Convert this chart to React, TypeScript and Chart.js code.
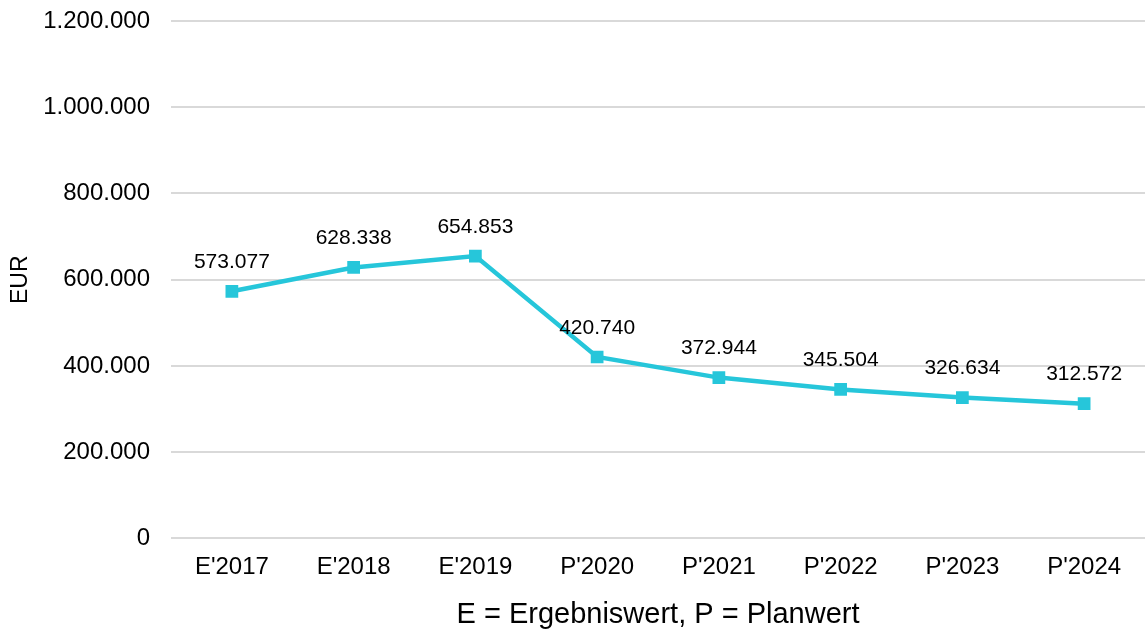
import React, { useEffect, useRef } from "react";
import { Chart, registerables } from "chart.js";

Chart.register(...registerables);

const categories = ["E'2017", "E'2018", "E'2019", "P'2020", "P'2021", "P'2022", "P'2023", "P'2024"];
const values = [573077, 628338, 654853, 420740, 372944, 345504, 326634, 312572];
const yTicks = [0, 200000, 400000, 600000, 800000, 1000000, 1200000];
const yTitle = "EUR";
const xTitle = "E = Ergebniswert, P = Planwert";

const fmt = (v: number) => {
  const s = Math.round(v).toString();
  return s.replace(/\B(?=(\d{3})+(?!\d))/g, ".");
};

const FONT = "'Liberation Sans', Arial, sans-serif";

const labelPlugin = {
  id: "pointLabels",
  afterDatasetsDraw(chart: any) {
    const ctx = chart.ctx;
    const meta = chart.getDatasetMeta(0);
    ctx.save();
    ctx.font = `21px ${FONT}`;
    ctx.fillStyle = "#000000";
    ctx.textAlign = "center";
    ctx.textBaseline = "middle";
    meta.data.forEach((pt: any, i: number) => {
      ctx.fillText(fmt(values[i]), pt.x, pt.y - 29);
    });
    ctx.restore();
  },
};

export default function App() {
  const ref = useRef<HTMLCanvasElement>(null);
  useEffect(() => {
    document.body.style.margin = "0";
    const chart = new Chart(ref.current!, {
      type: "line",
      data: {
        labels: categories,
        datasets: [
          {
            data: values,
            borderColor: "#26C6DA",
            backgroundColor: "#26C6DA",
            borderWidth: 4.5,
            pointStyle: "rect",
            pointRadius: 9,
            pointHoverRadius: 9,
            pointBorderWidth: 0,
            tension: 0,
          },
        ],
      },
      options: {
        animation: false,
        responsive: false,
        layout: { autoPadding: false, padding: { top: 21, right: 0, left: 0, bottom: 0 } },
        plugins: { legend: { display: false }, tooltip: { enabled: false } },
        scales: {
          x: {
            offset: true,
            grid: { display: false, drawTicks: false },
            border: { display: false },
            ticks: { color: "#000", font: { family: FONT, size: 24 }, padding: 15 },
            title: {
              display: true,
              text: xTitle,
              color: "#000",
              font: { family: FONT, size: 29 },
              padding: { top: 0, bottom: 0 },
            },
          },
          y: {
            min: 0,
            max: 1200000,
            afterBuildTicks: (axis: any) => {
              axis.ticks = yTicks.map((v) => ({ value: v }));
            },
            afterFit: (axis: any) => {
              axis.width = 171;
              axis.paddingTop = 0;
              axis.paddingBottom = 0;
            },
            grid: { color: "#d9d9d9", lineWidth: 2, drawTicks: false },
            border: { display: false },
            ticks: {
              color: "#000",
              font: { family: FONT, size: 24 },
              padding: 21,
              callback: (v: any) => fmt(Number(v)),
            },
            title: {
              display: true,
              text: yTitle,
              color: "#000",
              font: { family: FONT, size: 23 },
              padding: { top: 7, bottom: 0 },
            },
          },
        },
      },
      plugins: [labelPlugin],
    });
    return () => chart.destroy();
  }, []);
  return <canvas ref={ref} width={1145} height={632} style={{ display: "block" }} />;
}
